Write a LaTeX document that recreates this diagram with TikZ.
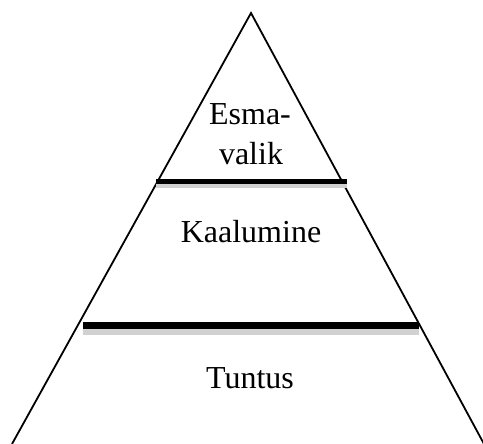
\documentclass[tikz,border=0pt]{standalone}
\usepackage{fontspec}
\setmainfont{Liberation Serif}
\usetikzlibrary{calc}

\begin{document}
\begin{tikzpicture}[x=0.5bp, y=-0.5bp,
    level/.style={anchor=base, inner sep=0pt, font=\fontsize{16bp}{19bp}\selectfont},
    bar/.style={line width=2.6bp, black},
    barshadow/.style={fill=black!18, draw=none}]
    \useasboundingbox (0,0) rectangle (483,444);
    \coordinate (T) at (251,13);
    \coordinate (L) at (12,444);
    \coordinate (R) at (484,444);
    \draw[line width=0.9bp] (L)--(T)--(R);
    % upper bar
    \coordinate (A1) at (156,181.5);
    \coordinate (B1) at (347,181.5);
    \fill[barshadow] ($(A1)+(0,2.5)$) rectangle ($(B1)+(0,6.5)$);
    \draw[bar] (A1)--(B1);
    % lower bar
    \coordinate (A2) at (83,325.5);
    \coordinate (B2) at (419,325.5);
    \fill[barshadow] ($(A2)+(0,3.5)$) rectangle ($(B2)+(0,9.5)$);
    \draw[bar, line width=3.4bp] (A2)--(B2);
    \node[level] (esma) at (250,125) {Esma-};
    \node[level] (valik) at (251,165) {valik};
    \node[level] (kaal) at (251,243) {Kaalumine};
    \node[level] (tuntus) at (250,388) {Tuntus};
\end{tikzpicture}
\end{document}
